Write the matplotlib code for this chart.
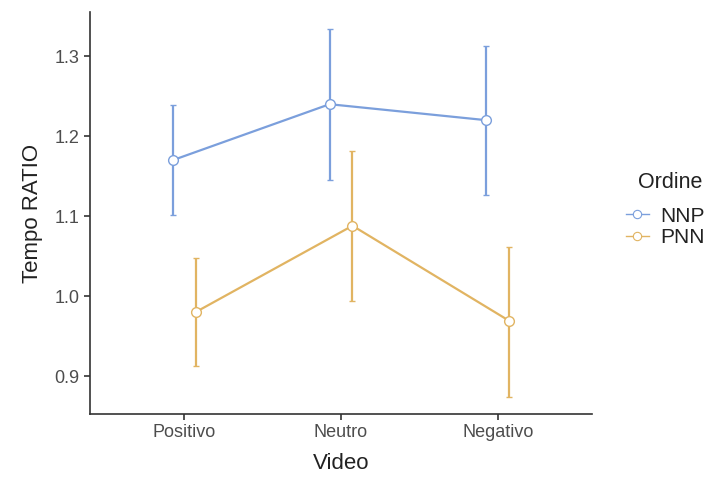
import matplotlib.pyplot as plt
from matplotlib.lines import Line2D
import numpy as np

plt.rcParams['font.family'] = ['Liberation Sans', 'DejaVu Sans']

videos = ['Positivo', 'Neutro', 'Negativo']
groups = ['NNP', 'PNN']

nnp_mean = [1.170, 1.240, 1.220]
nnp_low = [1.101, 1.145, 1.126]
nnp_high = [1.239, 1.334, 1.313]

pnn_mean = [0.980, 1.088, 0.969]
pnn_low = [0.912, 0.994, 0.874]
pnn_high = [1.048, 1.181, 1.061]

colors = {'NNP': '#7B9FDC', 'PNN': '#E1B462'}

fig = plt.figure(figsize=(7.21, 4.90), dpi=100)
ax = fig.add_axes([0.125, 0.155, 0.696, 0.82])

x = np.arange(len(videos))
dodge = 0.073
series = [
    ('NNP', nnp_mean, nnp_low, nnp_high, -dodge),
    ('PNN', pnn_mean, pnn_low, pnn_high, dodge),
]
for name, mean, low, high, off in series:
    mean = np.array(mean)
    yerr = [mean - np.array(low), np.array(high) - mean]
    c = colors[name]
    ax.errorbar(x + off, mean, yerr=yerr, color=c, lw=1.6, capsize=2.5,
                capthick=1.6, marker='o', ms=7, mfc='white', mec=c, mew=1.0,
                zorder=3)

ax.set_xlim(-0.6, 2.6)
ax.set_ylim(0.8525, 1.355)
ax.set_xticks(x)
ax.set_xticklabels(videos)
ax.set_yticks([0.9, 1.0, 1.1, 1.2, 1.3])
ax.set_yticklabels(['0.9', '1.0', '1.1', '1.2', '1.3'])
ax.tick_params(colors='#333333', labelcolor='#4D4D4D', labelsize=13, length=4, width=1.2)

for s in ['top', 'right']:
    ax.spines[s].set_visible(False)
for s in ['left', 'bottom']:
    ax.spines[s].set_color('#333333')
    ax.spines[s].set_linewidth(1.2)

ax.set_xlabel('Video', fontsize=16, color='#222222', labelpad=8)
ax.set_ylabel('Tempo RATIO', fontsize=16, color='#222222', labelpad=8)

# legend: title drawn separately to leave the gap above the keys
fig.text(0.885, 1 - 182 / 490, 'Ordine', fontsize=15.5, color='#222222',
         ha='left', va='center')
handles = [Line2D([], [], color=colors[g], lw=1.0, marker='o', ms=6,
                  mfc='white', mec=colors[g], mew=0.8) for g in groups]
leg = fig.legend(handles, groups, loc='upper left',
                 bbox_to_anchor=(0.868, 0.578), frameon=False, fontsize=15,
                 handlelength=1.1, handletextpad=0.55,
                 labelspacing=0.1, borderpad=0, borderaxespad=0)
for t in leg.get_texts():
    t.set_color('#222222')

fig.savefig('out.png', dpi=100)
